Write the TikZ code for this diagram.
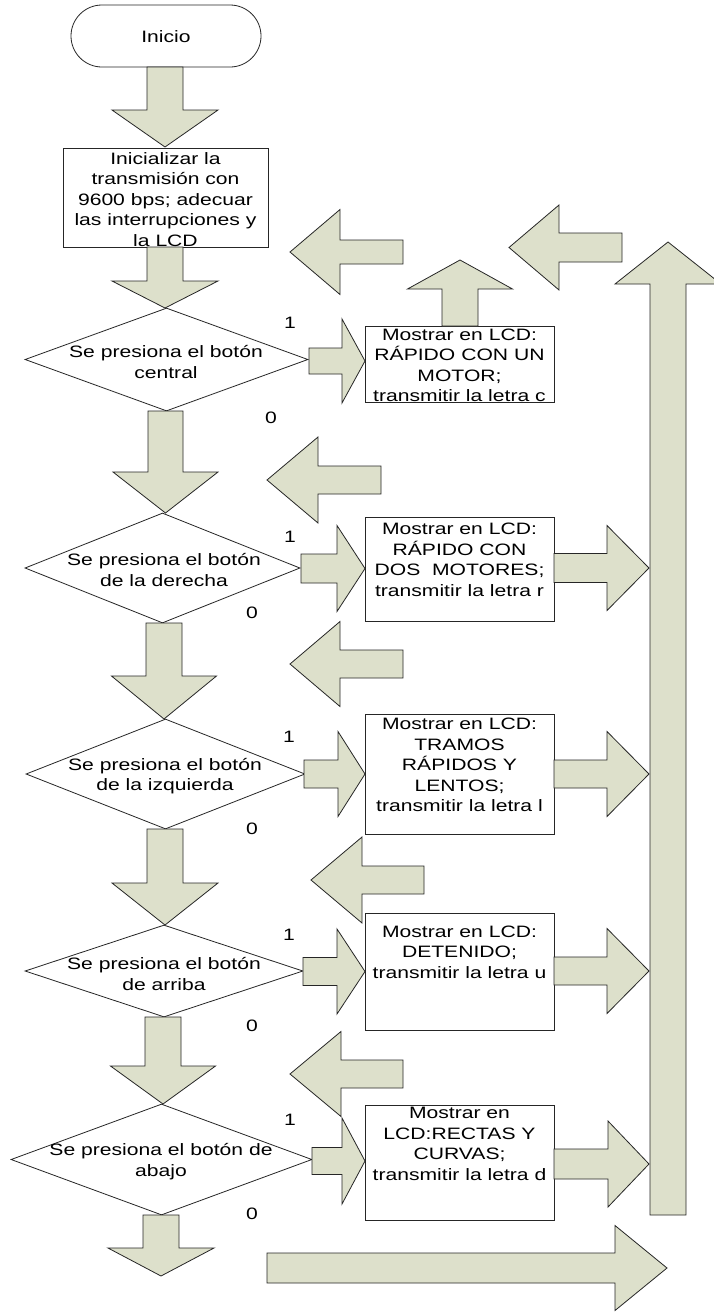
\documentclass[tikz,border=0pt]{standalone}
\usepackage{fontspec}
\setmainfont[FakeStretch=1.28]{Liberation Sans}
\usetikzlibrary{shapes.geometric}
\definecolor{arrowfill}{RGB}{221,224,203}
\tikzset{
  fat/.style={fill=arrowfill, draw=black!85, line width=0.8pt, line join=miter},
  box/.style={draw=black!85, line width=0.8pt, inner sep=0pt},
  dec/.style={diamond, draw=black!85, line width=0.8pt, inner sep=0pt},
  term/.style={draw=black!85, line width=0.8pt, rounded corners=31pt, inner sep=0pt},
  txt/.style={align=center, font=\fontsize{16.5}{20.5}\selectfont, inner sep=0pt},
  lbl/.style={font=\fontsize{16.5}{20.5}\selectfont, inner sep=0pt},
}
% vertical fat arrow: cx, start y, shaft half width, head base y, head half width, tip y
\newcommand{\fatvert}[6]{\filldraw[fat] ({#1-#3},#2) -- ({#1+#3},#2) -- ({#1+#3},#4) -- ({#1+#5},#4) -- (#1,#6) -- ({#1-#5},#4) -- ({#1-#3},#4) -- cycle;}
% horizontal fat arrow: cy, start x, shaft half width, head base x, head half width, tip x
\newcommand{\fathoriz}[6]{\filldraw[fat] (#2,{#1-#3}) -- (#4,{#1-#3}) -- (#4,{#1-#5}) -- (#6,#1) -- (#4,{#1+#5}) -- (#4,{#1+#3}) -- (#2,{#1+#3}) -- cycle;}
\begin{document}
\begin{tikzpicture}[x=1pt,y=-1pt]
\clip (0,0) rectangle (714,1312);
\fill[white] (0,0) rectangle (714,1312);

% main column nodes
\node[term, minimum width=190pt, minimum height=62pt] (inicio) at (166,36) {};
\node[txt] (tinicio) at (166,37) {Inicio};
\node[box, minimum width=205pt, minimum height=99pt] (init) at (165.5,197.5) {};
\node[txt] (tinit) at (165.5,199.5) {Inicializar la\\transmisión con\\9600 bps; adecuar\\las interrupciones y\\la LCD};

\node[dec, minimum width=283pt, minimum height=103pt] (d1) at (166.5,359.5) {};
\node[txt] (td1) at (166,362) {Se presiona el botón\\central};
\node[dec, minimum width=275pt, minimum height=110pt] (d2) at (162.5,568) {};
\node[txt] (td2) at (164,570) {Se presiona el botón\\de la derecha};
\node[dec, minimum width=279pt, minimum height=110pt] (d3) at (165.5,774) {};
\node[txt] (td3) at (165,776) {Se presiona el botón\\de la izquierda};
\node[dec, minimum width=278pt, minimum height=92pt] (d4) at (164,971) {};
\node[txt] (td4) at (164,974) {Se presiona el botón\\de arriba};
\node[dec, minimum width=301pt, minimum height=111pt] (d5) at (161.5,1159.5) {};
\node[txt] (td5) at (161,1161.5) {Se presiona el botón de\\abajo};

% right column boxes
\node[box, minimum width=189pt, minimum height=76pt] (b1) at (459.5,364) {};
\node[txt] (tb1) at (459.5,365.5) {Mostrar en LCD:\\RÁPIDO CON UN\\MOTOR;\\transmitir la letra c};
\node[box, minimum width=189pt, minimum height=104pt] (b2) at (459.5,569) {};
\node[txt] (tb2) at (459.5,560) {Mostrar en LCD:\\RÁPIDO CON\\DOS~~MOTORES;\\transmitir la letra r};
\node[box, minimum width=189pt, minimum height=120pt] (b3) at (459.5,774) {};
\node[txt] (tb3) at (459.5,765) {Mostrar en LCD:\\TRAMOS\\RÁPIDOS Y\\LENTOS;\\transmitir la letra l};
\node[box, minimum width=189pt, minimum height=117pt] (b4) at (459.5,971.5) {};
\node[txt] (tb4) at (459.5,952) {Mostrar en LCD:\\DETENIDO;\\transmitir la letra u};
\node[box, minimum width=189pt, minimum height=115pt] (b5) at (459.5,1162.5) {};
\node[txt] (tb5) at (459.5,1144) {Mostrar en\\LCD:RECTAS Y\\CURVAS;\\transmitir la letra d};

% down arrows of the main column
\fatvert{165}{67}{18}{110}{53}{147}
\fatvert{165}{247}{18}{281}{53}{308}
\fatvert{165.5}{411}{17.5}{472}{52.5}{513}
\fatvert{164}{623}{18}{676}{52.5}{719}
\fatvert{165}{829}{18}{883}{53}{925}
\fatvert{163}{1017}{18}{1066}{52.5}{1104}
\fatvert{161}{1215}{18}{1248}{53}{1276}

% arrows into the boxes
\fathoriz{361}{309}{13}{342}{42}{365}
\fathoriz{568.5}{301}{14.5}{337}{43}{365}
\fathoriz{774}{304}{14}{338}{42.5}{365}
\fathoriz{971.5}{303}{14}{337}{42.5}{365}
\fathoriz{1161}{312}{13.5}{342}{43}{365}

% arrows out of the boxes
\fathoriz{568}{554}{14.5}{607}{42.5}{649}
\fathoriz{774}{554}{14}{607}{42.5}{649}
\fathoriz{971}{554}{14}{607}{42.5}{649}
\fathoriz{1164}{554}{15}{608}{43}{649}

% return arrows (pointing left)
\fathoriz{252}{403}{12}{340}{42.5}{290}
\fathoriz{247.5}{622}{14.5}{559}{42.5}{509}
\fathoriz{480}{381}{14}{318}{43}{267}
\fathoriz{664}{403}{14}{340}{42.5}{290}
\fathoriz{880}{424}{14}{362}{43}{311}
\fathoriz{1074}{403}{14}{341}{42.5}{290}

% up arrows
\fatvert{460}{326}{18}{289}{52.5}{260}
\fatvert{668}{1215}{18}{284}{53}{242}

% bottom arrow
\fathoriz{1268}{267}{15}{615}{42.5}{667}

% branch labels
\node[lbl] (l1a) at (290,323) {1};
\node[lbl] (l0a) at (271,418) {0};
\node[lbl] (l1b) at (290,537) {1};
\node[lbl] (l0b) at (252,613) {0};
\node[lbl] (l1c) at (289,737) {1};
\node[lbl] (l0c) at (252,829) {0};
\node[lbl] (l1d) at (289,935) {1};
\node[lbl] (l0d) at (252,1026) {0};
\node[lbl] (l1e) at (290,1120) {1};
\node[lbl] (l0e) at (252,1214) {0};
\end{tikzpicture}
\end{document}
